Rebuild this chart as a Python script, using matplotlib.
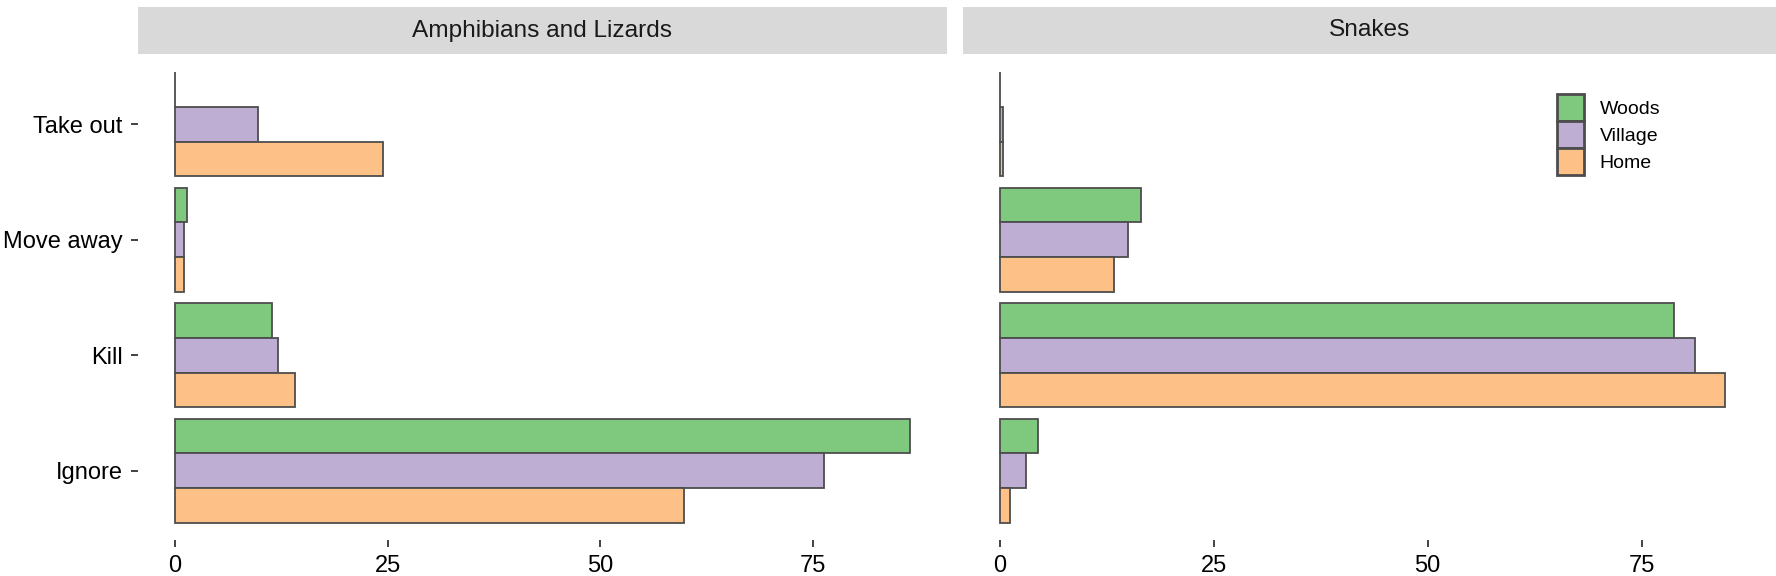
import numpy as np
import matplotlib.pyplot as plt
from matplotlib.patches import Rectangle

plt.rcParams['font.family'] = ['Liberation Sans', 'DejaVu Sans']

# data (percent of responses)
actions = ['Ignore', 'Kill', 'Move away', 'Take out']
groups = ['Woods', 'Village', 'Home']
colors = ['#7FC97F', '#BEAED4', '#FDC086']

amph_woods = [86.4, 11.4, 1.4, 0.0]
amph_village = [76.3, 12.1, 1.1, 9.8]
amph_home = [59.8, 14.1, 1.1, 24.5]

snake_woods = [4.4, 78.8, 16.5, 0.0]
snake_village = [3.0, 81.3, 15.0, 0.3]
snake_home = [1.2, 84.8, 13.3, 0.3]

panels = [
    ('Amphibians and Lizards', [amph_woods, amph_village, amph_home]),
    ('Snakes', [snake_woods, snake_village, snake_home]),
]

W, H = 1776, 576
fig = plt.figure(figsize=(W / 100, H / 100), dpi=100)

edge = '#4D4D4D'
bar_h = 0.3
offsets = [bar_h, 0, -bar_h]
xmax = max(max(v) for _, series in panels for v in series)

panel_x = [(138, 947), (963, 1776)]
top, bottom = 55, 540
strip_top, strip_bot = 7, 54

y = np.arange(len(actions))
axes = []
for i, (title, series) in enumerate(panels):
    x0, x1 = panel_x[i]
    ax = fig.add_axes([x0 / W, 1 - bottom / H, (x1 - x0) / W, (bottom - top) / H])
    for vals, off, c, g in zip(series, offsets, colors, groups):
        ax.barh(y + off, vals, height=bar_h, color=c, edgecolor=edge,
                linewidth=1.3, label=g)
    ax.set_xlim(-0.05 * xmax, 1.05 * xmax)
    ax.set_ylim(-0.6, len(actions) - 0.4)
    ax.set_xticks([0, 25, 50, 75])
    ax.set_yticks(y)
    if i == 0:
        ax.set_yticklabels(actions)
    else:
        ax.tick_params(axis='y', left=False, labelleft=False)
    for s in ax.spines.values():
        s.set_visible(False)
    ax.tick_params(axis='both', labelsize=17, length=5, width=1.3,
                   color='#333333', pad=6)

    # facet strip
    sax = fig.add_axes([x0 / W, 1 - strip_bot / H, (x1 - x0) / W, (strip_bot - strip_top) / H])
    sax.add_patch(Rectangle((0, 0), 1, 1, color='#D9D9D9', transform=sax.transAxes))
    sax.text(0.5, 0.5, title, ha='center', va='center', fontsize=17.6, color='#1A1A1A')
    sax.set_axis_off()
    axes.append(ax)

handles, labels = axes[1].get_legend_handles_labels()
leg = fig.legend(handles, labels, loc='upper left',
                 bbox_to_anchor=(1557 / W, 1 - 94 / H), frameon=False,
                 fontsize=14, handlelength=1.38, handleheight=1.75,
                 labelspacing=0, handletextpad=0.82, borderpad=0, borderaxespad=0)
for h in leg.legend_handles:
    h.set_linewidth(2)

fig.savefig('out.png', dpi=100)
